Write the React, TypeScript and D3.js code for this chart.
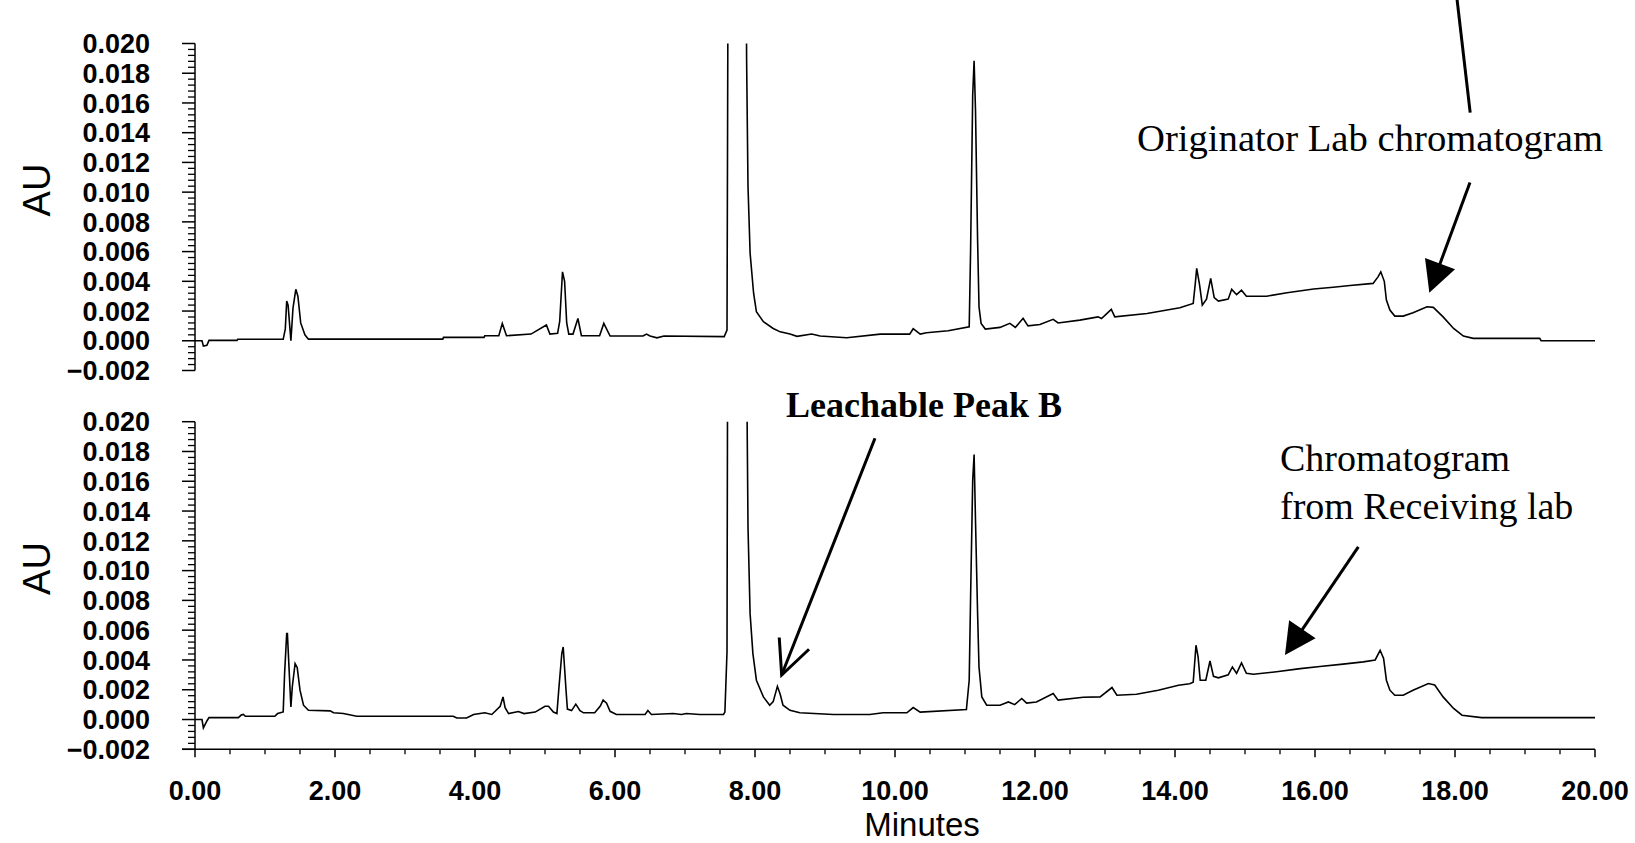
import { useEffect } from 'react';
import * as d3 from 'd3';

/* ═══ Data: [minutes, AU] ═══ */
const originatorTrace: [number, number][] = [
  [0.0, 0.0], [0.1, 0.0], [0.12, -0.00036], [0.17, -0.0003], [0.2, 0.00003], [0.6, 0.00003],
  [0.61, 0.0001], [1.26, 0.0001], [1.29, 0.0008], [1.31, 0.00267], [1.33, 0.0024], [1.37, 0.0],
  [1.4, 0.0022], [1.44, 0.00346], [1.47, 0.003], [1.51, 0.0012], [1.57, 0.0004], [1.62, 0.00011],
  [3.54, 0.00011], [3.55, 0.00023], [4.13, 0.00023], [4.14, 0.00034], [4.34, 0.00034], [4.39, 0.00117],
  [4.45, 0.00034], [4.8, 0.00045], [5.02, 0.00106], [5.07, 0.00045], [5.18, 0.0005], [5.21, 0.0013],
  [5.25, 0.00464], [5.28, 0.004], [5.31, 0.0012], [5.34, 0.00045], [5.4, 0.00045], [5.47, 0.0015],
  [5.52, 0.00034], [5.78, 0.00034], [5.84, 0.00117], [5.93, 0.00032], [6.4, 0.00032], [6.45, 0.00045],
  [6.5, 0.00032], [6.6, 0.0002], [6.7, 0.00032], [7.56, 0.00028], [7.6, 0.00072], [7.63, 0.05],
  [7.75, 0.09], [7.87, 0.03], [7.88, 0.019], [7.9, 0.0104], [7.93, 0.0059], [7.98, 0.0032],
  [8.02, 0.00195], [8.12, 0.00128], [8.26, 0.00083], [8.36, 0.0006], [8.5, 0.00045], [8.6, 0.0003],
  [8.81, 0.00045], [8.93, 0.00032], [9.31, 0.0002], [9.79, 0.00045], [10.21, 0.00045], [10.26, 0.00081],
  [10.36, 0.00045], [10.45, 0.00054], [10.76, 0.00067], [11.06, 0.00094], [11.08, 0.0061], [11.11, 0.01653],
  [11.13, 0.01884], [11.15, 0.01552], [11.18, 0.00677], [11.2, 0.00229], [11.23, 0.00117], [11.29, 0.00079],
  [11.5, 0.0009], [11.64, 0.00117], [11.72, 0.0009], [11.83, 0.00151], [11.9, 0.001], [12.07, 0.0011],
  [12.26, 0.00144], [12.33, 0.0012], [12.64, 0.00139], [12.9, 0.00161], [12.95, 0.0015], [13.09, 0.00211],
  [13.14, 0.00161], [13.6, 0.00184], [14.07, 0.00222], [14.26, 0.00251], [14.29, 0.00386], [14.31, 0.00487],
  [14.35, 0.0038], [14.39, 0.0024], [14.45, 0.0028], [14.51, 0.0042], [14.56, 0.0029], [14.62, 0.00267],
  [14.76, 0.0028], [14.81, 0.00346], [14.88, 0.0031], [14.95, 0.0034], [15.02, 0.003], [15.31, 0.003],
  [15.6, 0.00323], [15.98, 0.00348], [16.26, 0.0036], [16.5, 0.00372], [16.83, 0.00386], [16.9, 0.0043],
  [16.94, 0.00464], [16.99, 0.004], [17.02, 0.00274], [17.07, 0.00207], [17.14, 0.00166], [17.26, 0.00166],
  [17.4, 0.00188], [17.6, 0.00229], [17.69, 0.00225], [17.83, 0.00161], [17.98, 0.00083], [18.12, 0.00032],
  [18.26, 0.00016], [19.21, 0.00016], [19.23, 0.0], [20.0, 0.0],
];

const receivingTrace: [number, number][] = [
  [0.0, 0.0], [0.1, 0.0], [0.12, -0.00056], [0.17, -0.0001], [0.2, 0.00013], [0.62, 0.00013],
  [0.66, 0.0003], [0.69, 0.00034], [0.72, 0.00022], [1.14, 0.00022], [1.18, 0.0004], [1.26, 0.00051],
  [1.28, 0.00309], [1.31, 0.00577], [1.32, 0.00577], [1.35, 0.0028], [1.37, 0.00085], [1.39, 0.0022],
  [1.43, 0.00376], [1.46, 0.0035], [1.5, 0.00197], [1.55, 0.00096], [1.62, 0.00062], [1.93, 0.00058],
  [1.98, 0.00045], [2.12, 0.0004], [2.31, 0.00022], [3.69, 0.00022], [3.74, 0.0001], [3.88, 0.0001],
  [3.98, 0.00034], [4.14, 0.00045], [4.24, 0.00034], [4.36, 0.00089], [4.4, 0.00152], [4.43, 0.0008],
  [4.48, 0.0004], [4.62, 0.00054], [4.7, 0.0004], [4.86, 0.0005], [5.0, 0.00089], [5.05, 0.00089],
  [5.12, 0.0005], [5.17, 0.0004], [5.2, 0.0022], [5.24, 0.00443], [5.26, 0.00487], [5.3, 0.002],
  [5.32, 0.0007], [5.38, 0.0006], [5.44, 0.00103], [5.5, 0.0006], [5.55, 0.00045], [5.71, 0.00045],
  [5.79, 0.0009], [5.83, 0.0013], [5.88, 0.0011], [5.93, 0.00055], [6.02, 0.00034], [6.43, 0.00034],
  [6.47, 0.0006], [6.52, 0.00034], [6.83, 0.0004], [6.95, 0.00034], [7.02, 0.0004], [7.21, 0.00034],
  [7.55, 0.00034], [7.57, 0.0005], [7.6, 0.00454], [7.62, 0.05], [7.75, 0.09], [7.87, 0.03],
  [7.9, 0.01293], [7.93, 0.00711], [7.97, 0.00443], [8.02, 0.00264], [8.12, 0.00152], [8.21, 0.00096],
  [8.26, 0.0012], [8.32, 0.00223], [8.36, 0.0017], [8.4, 0.00096], [8.5, 0.00062], [8.64, 0.00045],
  [9.12, 0.00034], [9.64, 0.00034], [9.83, 0.00045], [10.17, 0.00045], [10.26, 0.0008], [10.36, 0.0005],
  [11.02, 0.00067], [11.06, 0.00264], [11.08, 0.00823], [11.11, 0.01606], [11.13, 0.0178], [11.15, 0.01337],
  [11.18, 0.00711], [11.2, 0.00353], [11.24, 0.00152], [11.31, 0.00096], [11.5, 0.00096], [11.62, 0.00118],
  [11.71, 0.001], [11.81, 0.00141], [11.88, 0.0011], [12.02, 0.00118], [12.26, 0.00174], [12.33, 0.0013],
  [12.69, 0.0015], [12.93, 0.00152], [13.1, 0.00215], [13.17, 0.00163], [13.45, 0.0017], [13.76, 0.00197],
  [14.05, 0.0023], [14.21, 0.0024], [14.26, 0.0025], [14.3, 0.00499], [14.33, 0.0042], [14.36, 0.00264],
  [14.44, 0.00264], [14.5, 0.00393], [14.55, 0.0029], [14.62, 0.0028], [14.76, 0.003], [14.82, 0.00353],
  [14.88, 0.0031], [14.95, 0.0038], [15.02, 0.0031], [15.12, 0.00304], [15.45, 0.00321], [15.79, 0.00342],
  [16.07, 0.00356], [16.4, 0.00372], [16.69, 0.00387], [16.86, 0.004], [16.93, 0.00465], [16.98, 0.0041],
  [17.02, 0.00264], [17.07, 0.00197], [17.14, 0.00163], [17.26, 0.00163], [17.4, 0.00197], [17.62, 0.00242],
  [17.71, 0.00232], [17.83, 0.00152], [17.98, 0.00074], [18.1, 0.00029], [18.38, 0.00013], [20.0, 0.00013],
];

const yMajorTicks = d3.range(-1, 11).map(i => i * 0.002);
const yMinorTicks = d3.range(-5, 51).filter(i => i % 5 !== 0).map(i => i * 0.0004);
const xMajorTicks = d3.range(0, 11).map(i => i * 2);
const xMinorTicks = d3.range(0, 41).filter(i => i % 4 !== 0).map(i => i * 0.5);

const W = 1635, H = 843;
const SANS = '"Liberation Sans", Arial, sans-serif';
const SERIF = '"Liberation Serif", "Times New Roman", serif';

const x = d3.scaleLinear().domain([0, 20]).range([195, 1595]);
const yTop = d3.scaleLinear().domain([-0.002, 0.02]).range([370.5, 43.5]);
const yBot = d3.scaleLinear().domain([-0.002, 0.02]).range([749.3, 421.7]);

const fmtY = d3.format('.3f');
const fmtX = d3.format('.2f');

/* ═══ Arrow helpers ═══ */
function headPoints(x1: number, y1: number, x2: number, y2: number, len: number, half: number) {
  const dx = x2 - x1, dy = y2 - y1;
  const d = Math.hypot(dx, dy);
  const ux = dx / d, uy = dy / d;
  const bx = x2 - ux * len, by = y2 - uy * len;
  return [[bx - uy * half, by + ux * half], [x2, y2], [bx + uy * half, by - ux * half]];
}

function SolidArrow({ from, to, y }: { from: [number, number]; to: [number, number]; y: d3.ScaleLinear<number, number> }) {
  const x1 = x(from[0]), y1 = y(from[1]), x2 = x(to[0]), y2 = y(to[1]);
  const pts = headPoints(x1, y1, x2, y2, 31, 16);
  const d = Math.hypot(x2 - x1, y2 - y1);
  const ex = x2 - ((x2 - x1) / d) * 25, ey = y2 - ((y2 - y1) / d) * 25;
  return (
    <g>
      <line x1={x1} y1={y1} x2={ex} y2={ey} stroke="#000" strokeWidth={3} />
      <polygon points={pts.map(p => p.join(',')).join(' ')} fill="#000" />
    </g>
  );
}

function OpenArrow({ from, to, y }: { from: [number, number]; to: [number, number]; y: d3.ScaleLinear<number, number> }) {
  const x1 = x(from[0]), y1 = y(from[1]), x2 = x(to[0]), y2 = y(to[1]);
  const pts = headPoints(x1, y1, x2, y2, 34, 16);
  return (
    <g fill="none" stroke="#000" strokeWidth={3}>
      <line x1={x1} y1={y1} x2={x2} y2={y2} />
      <polyline points={pts.map(p => p.join(',')).join(' ')} />
    </g>
  );
}

/* ═══ One chromatogram panel ═══ */
function Panel({ id, trace, y, showX }: { id: string; trace: [number, number][]; y: d3.ScaleLinear<number, number>; showX: boolean }) {
  const line = d3.line<[number, number]>().x(d => x(d[0])).y(d => y(d[1]));
  const [yb, yt] = y.range();
  const midY = (yb + yt) / 2 - 17;
  return (
    <g>
      <defs>
        <clipPath id={id}>
          <rect x={x(0)} y={yt} width={x(20) - x(0) + 2} height={yb - yt + 10} />
        </clipPath>
      </defs>
      {/* y axis */}
      <line x1={x(0)} x2={x(0)} y1={yt} y2={yb} stroke="#000" strokeWidth={1.5} />
      {yMajorTicks.map(t => (
        <g key={t}>
          <line x1={x(0) - 13} x2={x(0)} y1={y(t)} y2={y(t)} stroke="#000" strokeWidth={1.5} />
          <text x={150} y={y(t)} dy="0.36em" textAnchor="end" fontFamily={SANS} fontWeight="bold" fontSize={27}>
            {fmtY(t)}
          </text>
        </g>
      ))}
      {yMinorTicks.map(t => (
        <line key={t} x1={x(0) - 7} x2={x(0)} y1={y(t)} y2={y(t)} stroke="#000" strokeWidth={1.3} />
      ))}
      <text transform={`translate(50,${midY}) rotate(-90)`} textAnchor="middle" fontFamily={SANS} fontSize={38}>AU</text>

      {/* x axis */}
      {showX && (
        <g>
          <line x1={x(0) - 13} x2={x(20)} y1={yb} y2={yb} stroke="#000" strokeWidth={1.5} />
          {xMajorTicks.map(t => (
            <g key={t}>
              <line x1={x(t)} x2={x(t)} y1={yb} y2={yb + 8} stroke="#000" strokeWidth={1.5} />
              <text x={x(t)} y={800} textAnchor="middle" fontFamily={SANS} fontWeight="bold" fontSize={27}>
                {fmtX(t)}
              </text>
            </g>
          ))}
          {xMinorTicks.map(t => (
            <line key={t} x1={x(t)} x2={x(t)} y1={yb} y2={yb + 5} stroke="#000" strokeWidth={1.3} />
          ))}
        </g>
      )}

      <path d={line(trace) ?? ''} fill="none" stroke="#000" strokeWidth={1.6} clipPath={`url(#${id})`} />
    </g>
  );
}

export default function App() {
  useEffect(() => {
    document.body.style.margin = '0';
  }, []);

  return (
    <svg width={W} height={H} style={{ display: 'block', background: '#fff' }}>
      <Panel id="clipTop" trace={originatorTrace} y={yTop} showX={false} />
      <Panel id="clipBot" trace={receivingTrace} y={yBot} showX={true} />

      <text x={922} y={836} textAnchor="middle" fontFamily={SANS} fontSize={33}>Minutes</text>

      {/* top annotations */}
      <line x1={x(18.03)} y1={yTop(0.02293)} x2={x(18.217)} y2={yTop(0.01535)} stroke="#000" strokeWidth={3} />
      <text x={x(13.457)} y={yTop(0.01277)} fontFamily={SERIF} fontSize={38} textLength={466} lengthAdjust="spacingAndGlyphs">
        Originator Lab chromatogram
      </text>
      <SolidArrow from={[18.214, 0.01065]} to={[17.633, 0.003234]} y={yTop} />

      {/* bottom annotations */}
      <text x={x(8.443)} y={yBot(0.0203)} fontFamily={SERIF} fontWeight="bold" fontSize={36}>Leachable Peak B</text>
      <OpenArrow from={[9.714, 0.01889]} to={[8.381, 0.002988]} y={yBot} />
      <text x={x(15.5)} y={yBot(0.01666)} fontFamily={SERIF} fontSize={38}>Chromatogram</text>
      <text x={x(15.5)} y={yBot(0.013465)} fontFamily={SERIF} fontSize={38}>from Receiving lab</text>
      <SolidArrow from={[16.619, 0.0116]} to={[15.571, 0.004332]} y={yBot} />
    </svg>
  );
}
